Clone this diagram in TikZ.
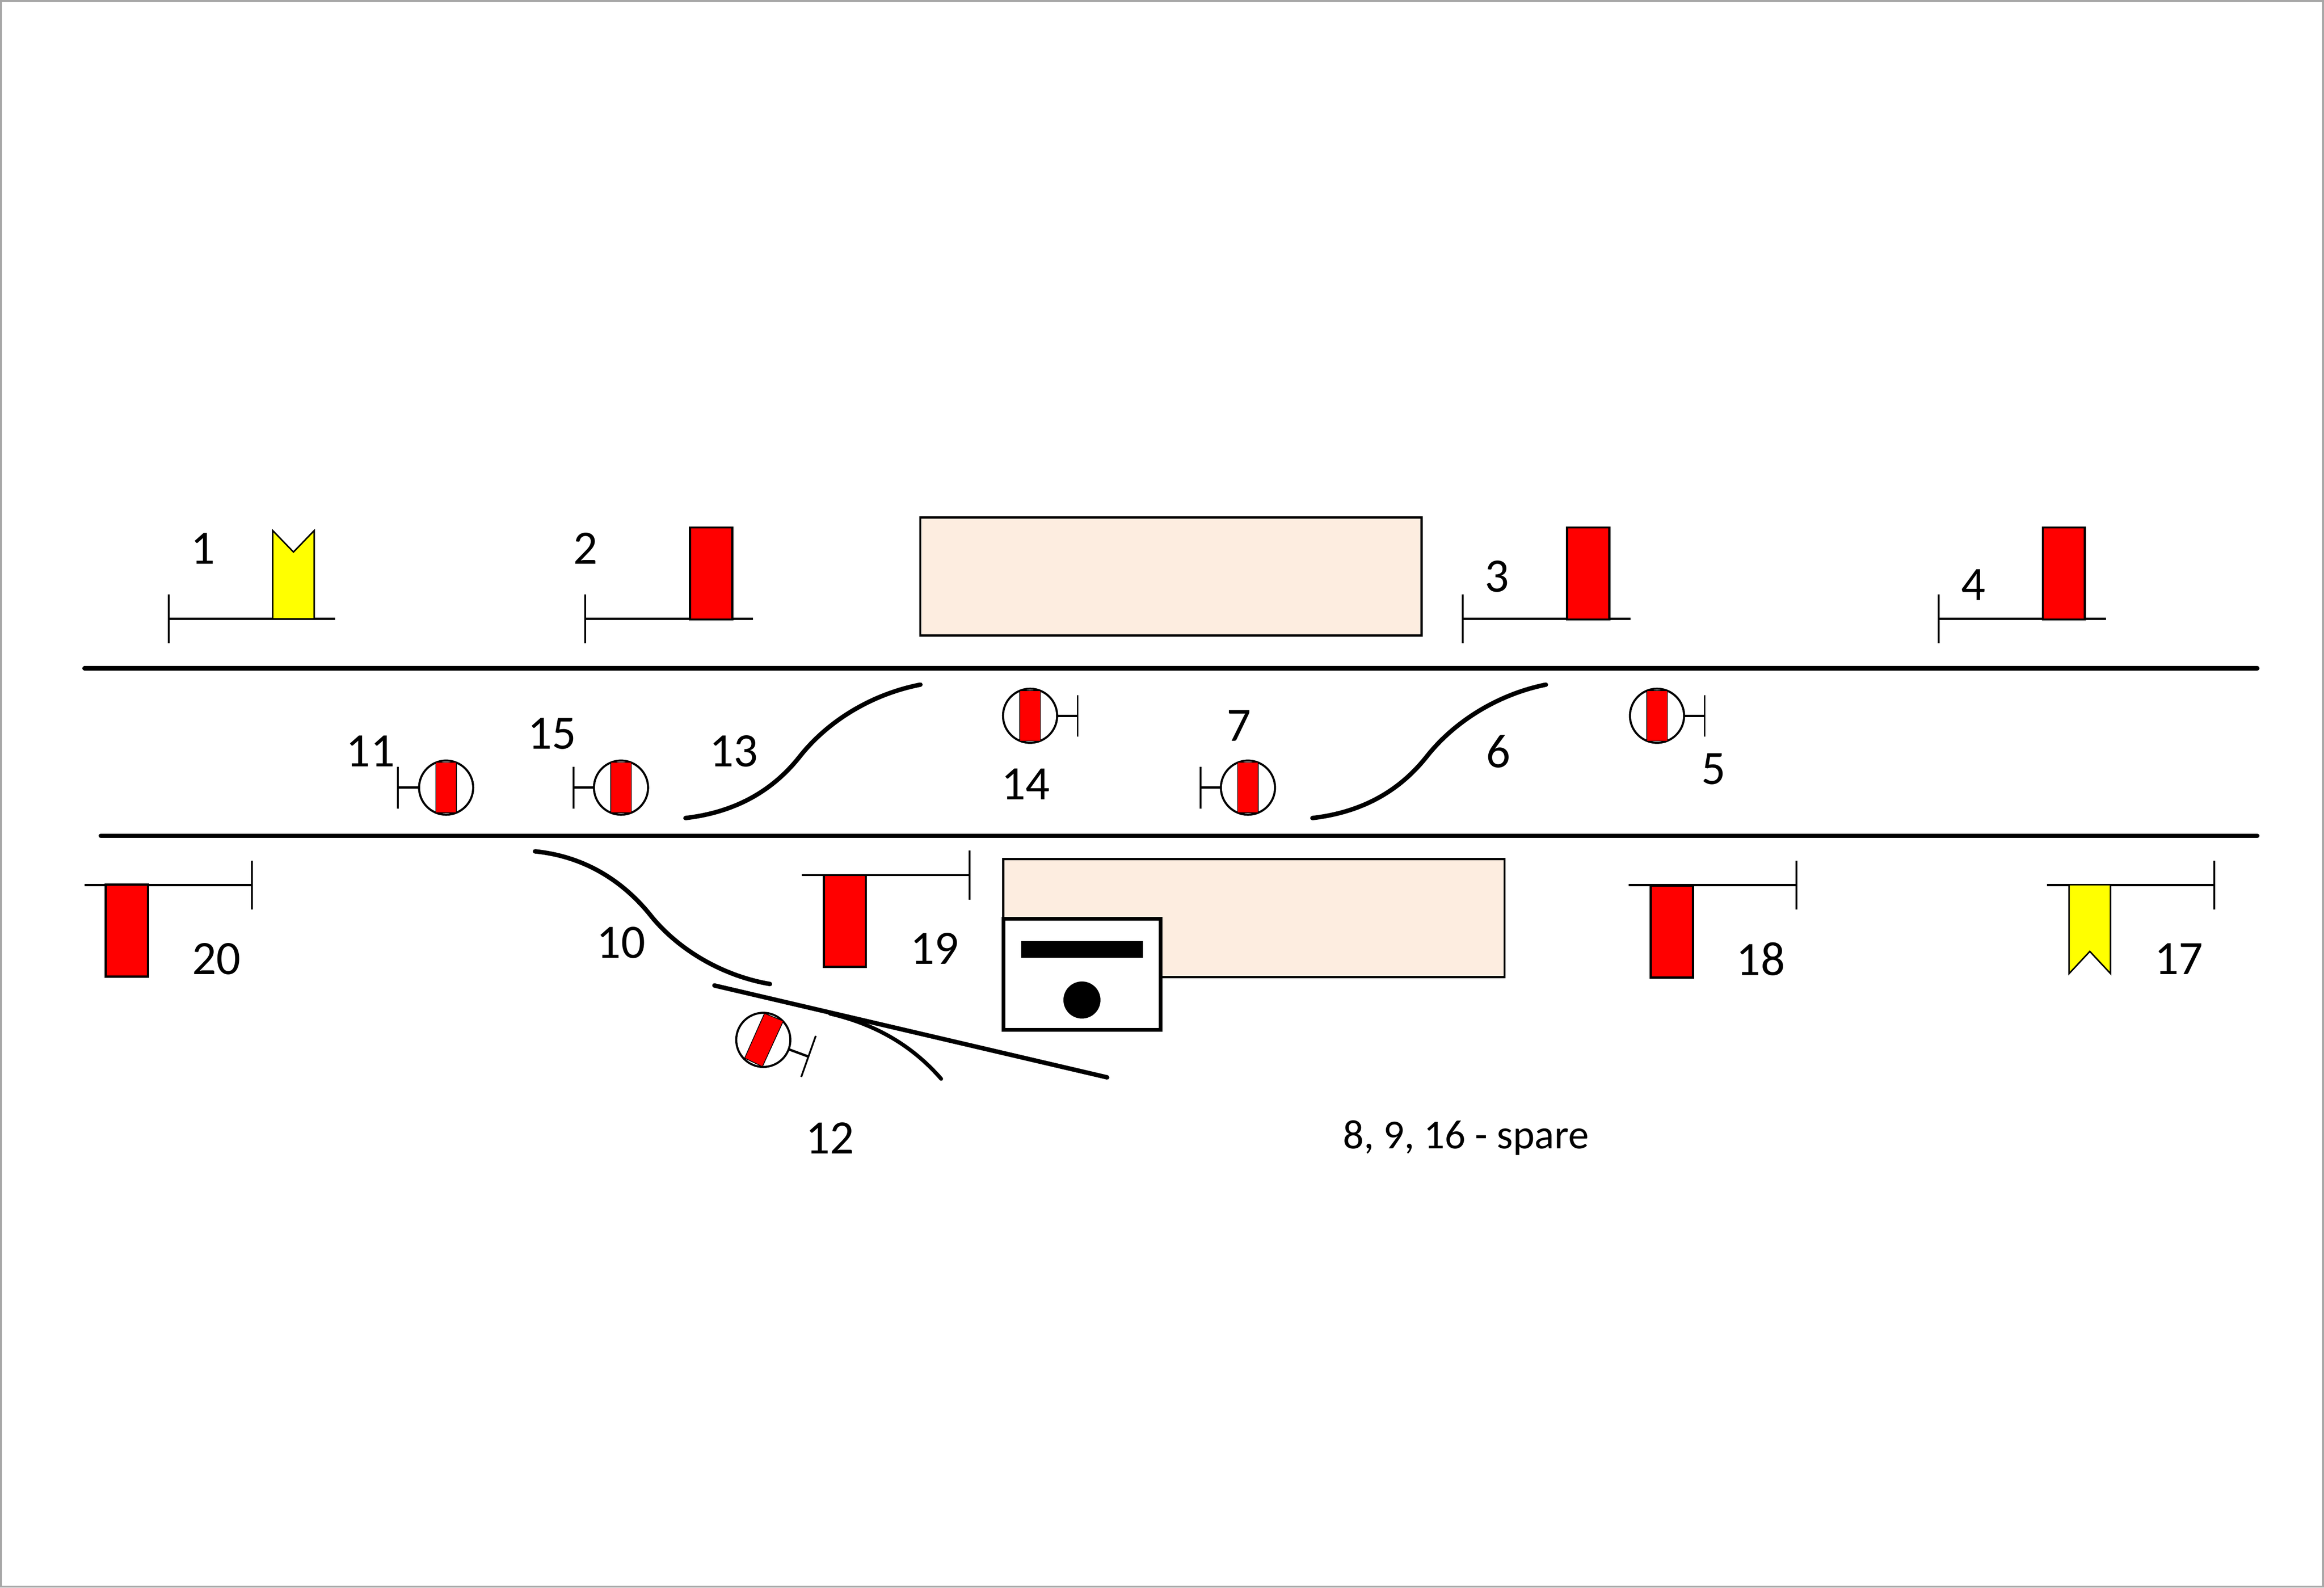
\documentclass[tikz,border=0pt]{standalone}
\usepackage{fontspec}
\setmainfont{Carlito}
\usetikzlibrary{arrows.meta,positioning}
\definecolor{station}{HTML}{FDEDE0}
\definecolor{frameline}{HTML}{A6A6A6}
\definecolor{boardred}{HTML}{FF0000}
\definecolor{boardyellow}{HTML}{FFFF00}
\tikzset{
	num/.style={inner sep=0pt,font=\fontsize{9.2pt}{10pt}\selectfont},
	spare/.style={inner sep=0pt,font=\fontsize{7.9pt}{9pt}\selectfont},
	track/.style={line width=.03cm,line cap=round},
	post/.style={line width=.014cm,{Bar[width=.33cm,line width=.012cm]}-},
	stem/.style={line width=.016cm,-{Bar[width=.28cm,line width=.012cm]}},
	flag/.style={draw,fill=boardred,line width=.015cm,inner sep=0pt,outer sep=0pt,minimum width=.285cm,minimum height=.62cm},
	yellowflag/.style={draw,fill=boardyellow,line width=.01cm,line join=miter},
	disc/.style={circle,draw,fill=white,line width=.014cm,inner sep=0pt,outer sep=0pt,minimum size=.365cm},
	bar/.style={draw,fill=boardred,line width=.005cm,inner sep=0pt,outer sep=0pt,minimum width=.14cm,minimum height=.34cm},
	building/.style={draw,fill=station,line width=.015cm,inner sep=0pt,outer sep=0pt,minimum width=3.38cm,minimum height=.795cm}
}
\begin{document}
\begin{tikzpicture}[x=.01cm,y=-.01cm]
	\useasboundingbox (0,0) rectangle (1568,1071.3);
	\draw[frameline,line width=.012cm] (.6,.6) rectangle (1567.4,1070.7);
	% running lines
	\coordinate (t_a) at (57,451);
	\coordinate (t_b) at (1523,451);
	\coordinate (u_a) at (68,564);
	\coordinate (u_b) at (1523,564);
	\draw[track] (t_a) -- (t_b);
	\draw[track] (u_a) -- (u_b);
	% platforms and hut
	\node[building] (plat_up) at (790,389) {};
	\node[building] (plat_dn) at (846,619.5) {};
	\node[draw,fill=white,line width=.025cm,inner sep=0pt,outer sep=0pt,minimum width=1.06cm,minimum height=.75cm] (hut) at (730,657.5) {};
	\node[fill=black,inner sep=0pt,minimum width=.82cm,minimum height=.11cm,below=.145cm of hut.north] (slit) {};
	\node[circle,fill=black,inner sep=0pt,minimum size=.25cm,above=.07cm of hut.south] (lamp) {};
	% boards above the line
	\coordinate (p1) at (113.3,417.6);
	\coordinate (e1) at (226,417.6);
	\coordinate (p2) at (394.3,417.6);
	\coordinate (e2) at (508,417.6);
	\coordinate (p3) at (986.3,417.6);
	\coordinate (e3) at (1100,417.6);
	\coordinate (p4) at (1307.3,417.6);
	\coordinate (e4) at (1421,417.6);
	\draw[post] (p1) -- (e1);
	\draw[post] (p2) -- (e2);
	\draw[post] (p3) -- (e3);
	\draw[post] (p4) -- (e4);
	\draw[yellowflag] (184,417.6) -- (184,358) -- (198,372.5) -- (212,358) -- (212,417.6) -- cycle;
	\node[flag,anchor=south] (f2) at (479.7,418) {};
	\node[flag,anchor=south] (f3) at (1071.5,418) {};
	\node[flag,anchor=south] (f4) at (1392.5,418) {};
	% boards below the line
	\coordinate (p20) at (170.7,597.2);
	\coordinate (e20) at (57,597.2);
	\coordinate (p19) at (654.7,590.5);
	\coordinate (e19) at (541,590.5);
	\coordinate (p18) at (1212.7,597.2);
	\coordinate (e18) at (1099,597.2);
	\coordinate (p17) at (1494.7,597.2);
	\coordinate (e17) at (1381,597.2);
	\draw[post] (p20) -- (e20);
	\draw[post] (p19) -- (e19);
	\draw[post] (p18) -- (e18);
	\draw[post] (p17) -- (e17);
	\node[flag,anchor=north] (f20) at (85.5,597) {};
	\node[flag,anchor=north] (f19) at (570,590.5) {};
	\node[flag,anchor=north] (f18) at (1128,597.5) {};
	\draw[yellowflag] (1396,597) -- (1396,657) -- (1410,642) -- (1424,657) -- (1424,597) -- cycle;
	% discs
	\node[disc] (d11) at (301,531.5) {};
	\node[disc] (d15) at (419,531.5) {};
	\node[disc] (d7) at (842,531.5) {};
	\node[disc] (d14) at (695,483) {};
	\node[disc] (d5) at (1118,483) {};
	\node[bar] at (d11) {};
	\node[bar] at (d15) {};
	\node[bar] at (d7) {};
	\node[bar] at (d14) {};
	\node[bar] at (d5) {};
	\coordinate (c11) at (267.8,531.5);
	\coordinate (c15) at (386.3,531.5);
	\coordinate (c7) at (809.3,531.5);
	\coordinate (c14) at (727.7,483);
	\coordinate (c5) at (1150.7,483);
	\draw[stem] (d11) -- (c11);
	\draw[stem] (d15) -- (c15);
	\draw[stem] (d7) -- (c7);
	\draw[stem] (d14) -- (c14);
	\draw[stem] (d5) -- (c5);
	% disc on the siding
	\node[disc] (d12) at (515,701.7) {};
	\draw[fill=boardred,line width=.005cm] (515.8,683.8) -- (528.5,689) -- (514.4,719.8) -- (502.4,714) -- cycle;
	\coordinate (c12a) at (550.4,699);
	\coordinate (c12b) at (540.6,726.7);
	\coordinate (c12) at (545.5,713);
	\draw[line width=.012cm] (c12a) -- (c12b);
	\draw[line width=.016cm] (d12) -- (c12);
	% points
	\draw[track] (462.5,552) .. controls (497,548) and (522,533) .. (540,510) .. controls (560,485) and (590,468) .. (621,462);
	\draw[track] (885.5,552) .. controls (920,548) and (945,533) .. (963,510) .. controls (983,485) and (1013,468) .. (1043,462);
	\draw[track] (361,574.5) .. controls (396,578) and (422,596) .. (440,619) .. controls (460,643) and (490,659) .. (519.5,664);
	\coordinate (s_a) at (482,665);
	\coordinate (s_b) at (747,727);
	\draw[track] (s_a) -- (s_b);
	\draw[line width=.026cm,line cap=round] (560,684) .. controls (590,691) and (615,705) .. (635,728);
	% numbers
	\node[num] (n1) at (137,370) {1};
	\node[num] (n2) at (395,370) {2};
	\node[num] (n3) at (1010,389) {3};
	\node[num] (n4) at (1331.5,394.5) {4};
	\node[num] (n5) at (1156,519) {5};
	\node[num] (n6) at (1011,507) {6};
	\node[num] (n7) at (836,489.5) {7};
	\node[num] (n10) at (419,636) {10};
	\node[num] (n11) at (250,507) {11};
	\node[num] (n12) at (560,768) {12};
	\node[num] (n13) at (495,507) {13};
	\node[num] (n14) at (692,529) {14};
	\node[num] (n15) at (372.5,495) {15};
	\node[num] (n17) at (1470,647) {17};
	\node[num] (n18) at (1188,647) {18};
	\node[num] (n19) at (630.5,640) {19};
	\node[num] (n20) at (146,647) {20};
	\node[spare,anchor=base] (n_spare) at (989,775) {8, 9, 16 - spare};
\end{tikzpicture}
\end{document}
